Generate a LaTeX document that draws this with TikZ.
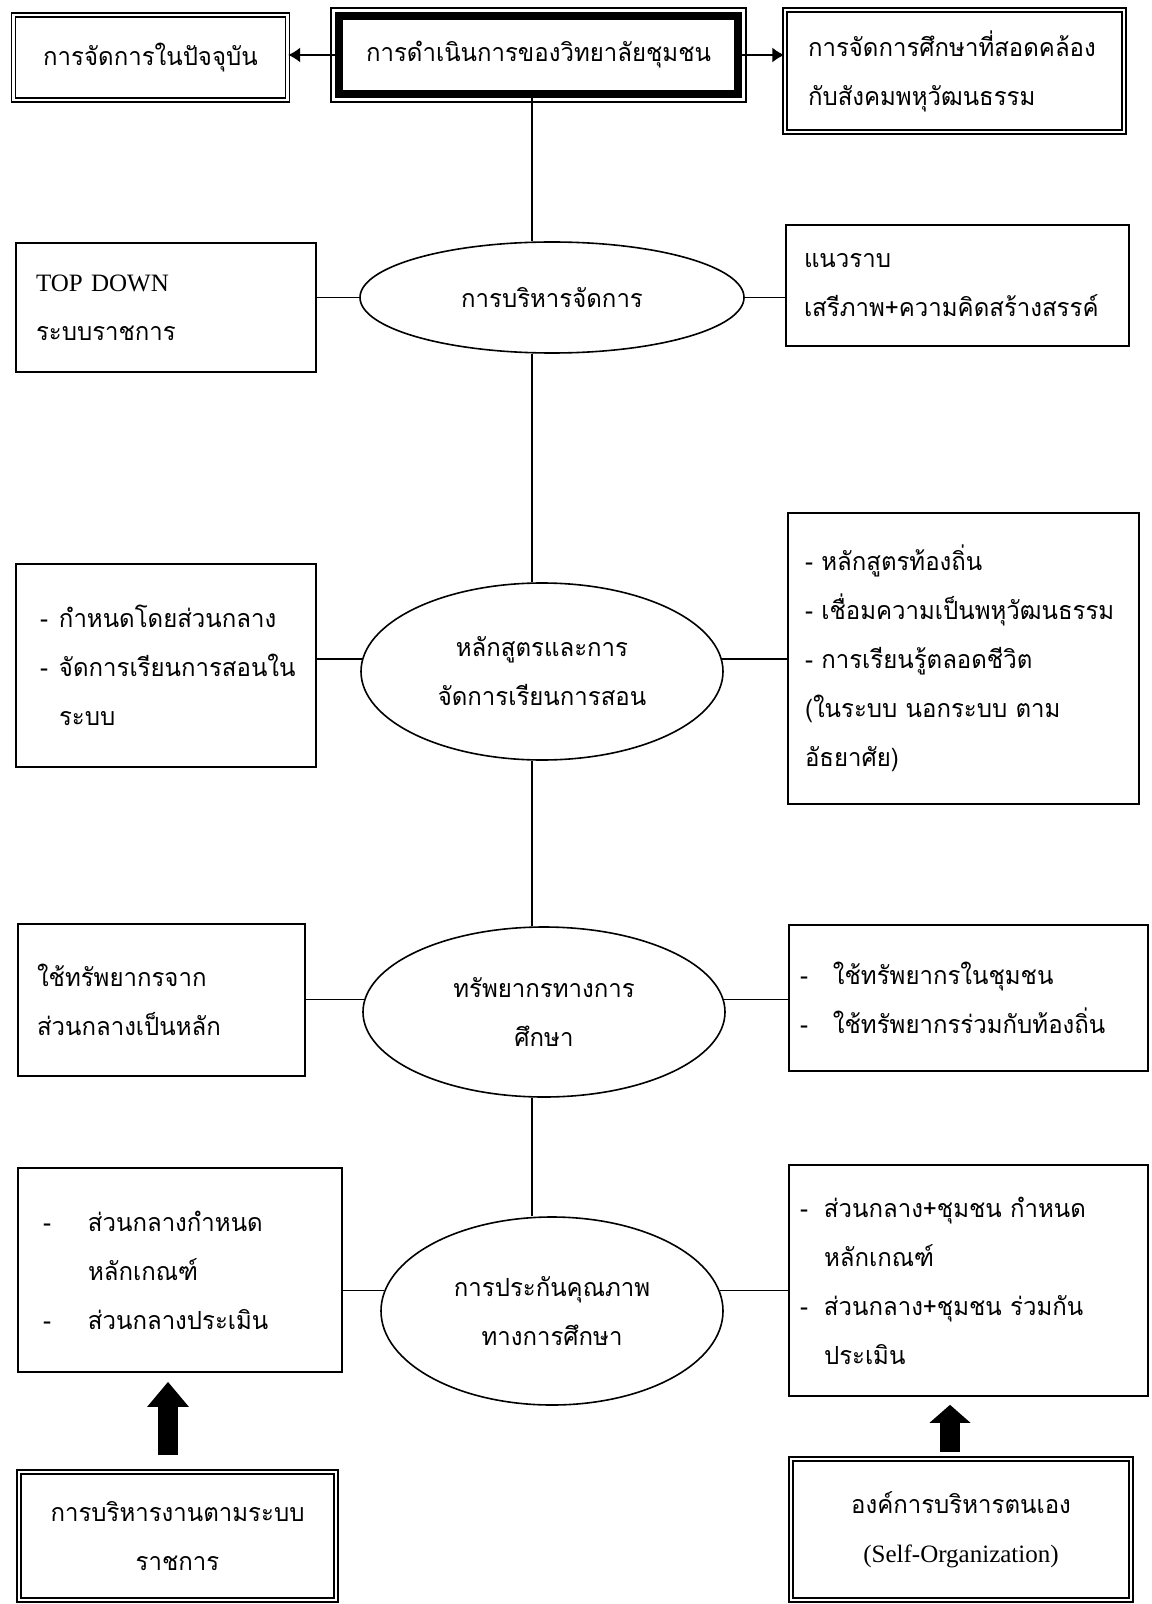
\documentclass[tikz,border=0pt]{standalone}
\usepackage{fontspec}
\setmainfont{Liberation Serif}
\newfontfamily\thaifont[Script=Thai, FakeStretch = 0.96]{Loma}
\usetikzlibrary{shapes.geometric, arrows.meta}

\newcommand{\itemdash}[1]{\makebox[#1][l]{-}}

\begin{document}
\begin{tikzpicture}[
        x = 0.5pt, y = -0.5pt,
        every node/.style = {font = \thaifont\fontsize{12.5}{24.5}\selectfont},
        textbox/.style = {draw, line width = 0.8pt, align = left, inner ysep = 0pt},
        twinbox/.style = {draw, line width = 0.7pt, double, double distance = 1.4pt, inner ysep = 0pt},
        topic/.style = {draw, ellipse, line width = 0.8pt, inner sep = 0pt, align = center},
        link/.style = {line width = 0.8pt},
        pointer/.style = {line width = 0.7pt, -{Latex[length = 6pt, width = 7.5pt]}},
        bigarrow/.style = {line width = 10pt, -{Triangle[width = 20pt, length = #1]}},
        bigarrow/.default = 12.5pt
    ]
        \useasboundingbox (0, 0) rectangle (1151, 1604);

        % top row
        \node [twinbox, minimum width = 137pt, minimum height = 42.5pt] (now) at (150.5, 57.5) {การจัดการในปัจจุบัน};
        \node [draw, line width = 4pt, minimum width = 199.5pt, minimum height = 39pt, inner ysep = 0pt] (college) at (538.5, 55) {การดำเนินการของวิทยาลัยชุมชน};
        \draw [line width = 0.6pt] ([shift = {(-4, -4)}]college.north west) rectangle ([shift = {(4, 4)}]college.south east);
        \node [twinbox, align = left, text width = 146.5pt, inner xsep = 11.5pt, minimum height = 61pt] (harmony) at (954.5, 71) {การจัดการศึกษาที่สอดคล้อง\\กับสังคมพหุวัฒนธรรม};

        % management
        \node [topic, minimum width = 192pt, minimum height = 55.5pt] (mgmt) at (552, 297.5) {การบริหารจัดการ};
        \node [textbox, text width = 130pt, inner xsep = 10pt, minimum height = 64.5pt] (topdown) at (166, 307.5) {{\rmfamily TOP DOWN}\\ระบบราชการ};
        \node [textbox, text width = 153.5pt, inner xsep = 9pt, minimum height = 60.5pt] (flat) at (957.5, 285.5) {แนวราบ\\เสรีภาพ+ความคิดสร้างสรรค์};

        % curriculum
        \node [topic, minimum width = 181pt, minimum height = 88.5pt] (curric) at (542, 671.5) {หลักสูตรและการ\\จัดการเรียนการสอน};
        \node [textbox, text width = 126pt, inner xsep = 12pt, minimum height = 101.5pt] (central) at (166, 665.5) {\itemdash{9.5pt}กำหนดโดยส่วนกลาง\\\itemdash{9.5pt}จัดการเรียนการสอนใน\\\hspace*{9.5pt}ระบบ};
        \node [textbox, text width = 158.5pt, inner xsep = 8.5pt, minimum height = 145.5pt] (local) at (963.5, 658.5) {-~หลักสูตรท้องถิ่น\\-~เชื่อมความเป็นพหุวัฒนธรรม\\-~การเรียนรู้ตลอดชีวิต\\(ในระบบ นอกระบบ ตาม\\อัธยาศัย)};

        % resources
        \node [topic, minimum width = 181pt, minimum height = 85pt] (res) at (544, 1012) {ทรัพยากรทางการ\\ศึกษา};
        \node [textbox, text width = 124.5pt, inner xsep = 9.5pt, minimum height = 76pt] (resleft) at (161.5, 1000) {ใช้ทรัพยากรจาก\\ส่วนกลางเป็นหลัก};
        \node [textbox, text width = 168.5pt, inner xsep = 5.5pt, minimum height = 73pt] (resright) at (968.5, 998) {\itemdash{16.5pt}ใช้ทรัพยากรในชุมชน\\\itemdash{16.5pt}ใช้ทรัพยากรร่วมกับท้องถิ่น};

        % quality assurance
        \node [topic, minimum width = 171pt, minimum height = 94pt] (qa) at (552, 1311) {การประกันคุณภาพ\\ทางการศึกษา};
        \node [textbox, text width = 137pt, inner xsep = 12.5pt, minimum height = 102pt] (qaleft) at (180, 1270) {\itemdash{22.5pt}ส่วนกลางกำหนด\\\hspace*{22.5pt}หลักเกณฑ์\\\itemdash{22.5pt}ส่วนกลางประเมิน};
        \node [textbox, text width = 168.5pt, inner xsep = 5.5pt, minimum height = 115.5pt] (qaright) at (968.5, 1280.5) {\itemdash{12pt}ส่วนกลาง+ชุมชน กำหนด\\\hspace*{12pt}หลักเกณฑ์\\\itemdash{12pt}ส่วนกลาง+ชุมชน ร่วมกัน\\\hspace*{12pt}ประเมิน};

        % bottom row
        \node [twinbox, align = center, minimum width = 158.5pt, minimum height = 64pt] (bureau) at (177.5, 1536) {การบริหารงานตามระบบ\\ราชการ};
        \node [twinbox, align = center, minimum width = 170pt, minimum height = 70.5pt] (selforg) at (961, 1529.5) {องค์การบริหารตนเอง\\{\rmfamily (Self-Organization)}};

        \coordinate (stem) at (532, 0);

        \draw [link]
            (college.south -| stem) edge (mgmt.north -| stem)
            (mgmt.south -| stem) edge (curric.north -| stem)
            (curric.south -| stem) edge (res.north -| stem)
            (res.south -| stem) edge (qa.north -| stem)

            (mgmt.west) edge (mgmt.west -| topdown.east)
            (mgmt.east) edge (mgmt.east -| flat.west)
            (curric.176) edge (curric.176 -| central.east)
            (curric.4) edge (curric.4 -| local.west)
            (res.176) edge (res.176 -| resleft.east)
            (res.4) edge (res.4 -| resright.west)
            (qa.173) edge (qa.173 -| qaleft.east)
            (qa.7) edge (qa.7 -| qaright.west)
        ;
        \draw
            (college.west) edge [pointer] (college.west -| now.east)
            (college.east) edge [pointer] (college.east -| harmony.west)
        ;

        \draw [bigarrow, shorten <= 8pt, shorten >= 4.5pt] ([xshift = -4.75pt]bureau.north) -- ([xshift = -4.75pt]bureau.north |- qaleft.south);
        \draw [bigarrow = 9pt, shorten <= 3pt, shorten >= 4pt] ([xshift = -5.5pt]selforg.north) -- ([xshift = -5.5pt]selforg.north |- qaright.south);
    \end{tikzpicture}
\end{document}
